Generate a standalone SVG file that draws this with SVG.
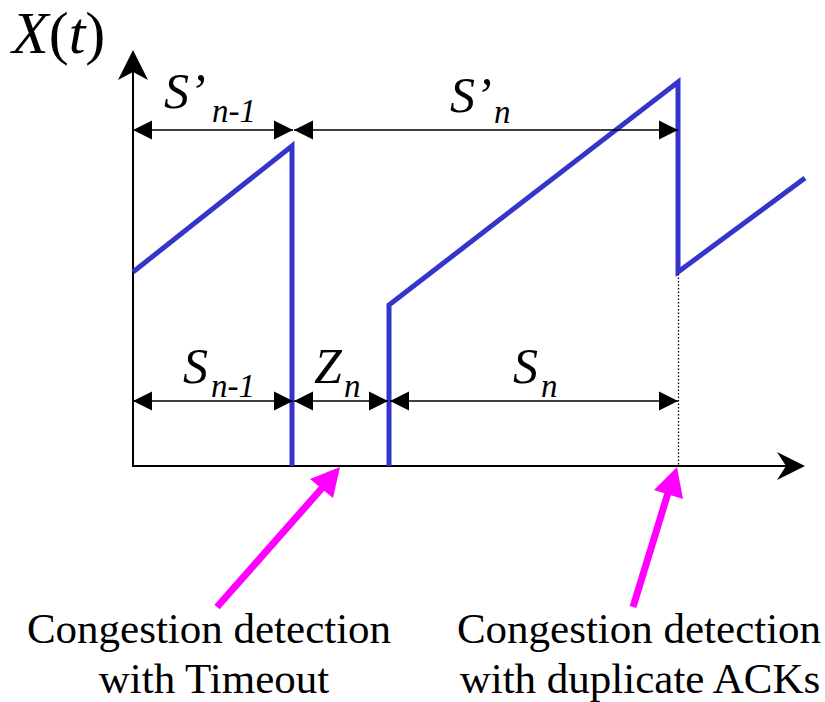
<svg xmlns="http://www.w3.org/2000/svg" width="825" height="702" viewBox="0 0 825 702">
<style>
text,tspan{font-family:"Liberation Serif",serif !important}
.ax{stroke:#000;stroke-width:2;fill:none}
.dim{stroke:#000;stroke-width:1.6;fill:none;marker-start:url(#ah);marker-end:url(#ah)}
.blue{stroke:#3535cc;stroke-width:5;fill:none;stroke-linejoin:miter}
.mag{stroke:#ff00ff;stroke-width:7;fill:none}
.magh{fill:#ff00ff}
</style>
<defs>
<marker id="ah" viewBox="0 0 20 20" refX="20" refY="10" markerWidth="19" markerHeight="20" markerUnits="userSpaceOnUse" orient="auto-start-reverse">
<path d="M0,0 L20,10 L0,20 z" fill="#000"/>
</marker>
</defs>
<g id="axes">
<line class="ax" x1="133" y1="466" x2="133" y2="70"/>
<polygon points="133,50 148,80 133,72 118,80" fill="#000"/>
<line class="ax" x1="132" y1="466" x2="790" y2="466"/>
<polygon points="805,466 777,452 786,466 777,480" fill="#000"/>
<text x="12" y="53" font-size="60" font-family="Liberation Serif" font-style="italic">X<tspan font-style="normal">(</tspan>t<tspan font-style="normal">)</tspan></text>
</g>
<g id="curve">
<polyline class="blue" points="133,272 292,146 292,466"/>
<polyline class="blue" points="389,466 389,305 678,82 678,272 805,178"/>
<line x1="678.5" y1="274" x2="678.5" y2="466" stroke="#000" stroke-width="1.3" stroke-dasharray="1.5 2"/>
</g>
<g id="connectors">
<line class="dim" x1="133" y1="130" x2="293" y2="130"/>
<line class="dim" x1="294" y1="130" x2="678" y2="130"/>
<line class="dim" x1="133" y1="401" x2="293" y2="401"/>
<line class="dim" x1="294" y1="401" x2="388" y2="401"/>
<line class="dim" x1="390" y1="401" x2="678" y2="401"/>
<line class="mag" x1="217" y1="607" x2="323" y2="487"/>
<polygon class="magh" points="340,467 310,479 333,498"/>
<line class="mag" x1="633" y1="607" x2="668" y2="493"/>
<polygon class="magh" points="677,467 654,490 683,499"/>
</g>
<g id="label-Sp-n-1">
<text x="164" y="108" font-size="50" font-family="Liberation Serif" font-style="italic">S&#8217;</text>
<text x="212" y="122" font-size="33" font-family="Liberation Serif" font-style="italic">n-1</text>
</g>
<g id="label-Sp-n">
<text x="450" y="112" font-size="50" font-family="Liberation Serif" font-style="italic">S&#8217;</text>
<text x="494" y="123" font-size="33" font-family="Liberation Serif" font-style="italic">n</text>
</g>
<g id="label-S-n-1">
<text x="183" y="383" font-size="50" font-family="Liberation Serif" font-style="italic">S</text>
<text x="211" y="397" font-size="33" font-family="Liberation Serif" font-style="italic">n-1</text>
</g>
<g id="label-Z-n">
<text x="314" y="383" font-size="50" font-family="Liberation Serif" font-style="italic">Z</text>
<text x="344" y="397" font-size="33" font-family="Liberation Serif" font-style="italic">n</text>
</g>
<g id="label-S-n">
<text x="513" y="383" font-size="50" font-family="Liberation Serif" font-style="italic">S</text>
<text x="541" y="397" font-size="33" font-family="Liberation Serif" font-style="italic">n</text>
</g>
<g id="caption-timeout">
<text x="209" y="643" font-size="43" font-family="Liberation Serif" text-anchor="middle">Congestion detection</text>
<text x="214" y="693" font-size="43" font-family="Liberation Serif" text-anchor="middle">with Timeout</text>
</g>
<g id="caption-dupack">
<text x="639" y="643" font-size="43" font-family="Liberation Serif" text-anchor="middle">Congestion detection</text>
<text x="640" y="693" font-size="43" font-family="Liberation Serif" text-anchor="middle">with duplicate ACKs</text>
</g>
</svg>
